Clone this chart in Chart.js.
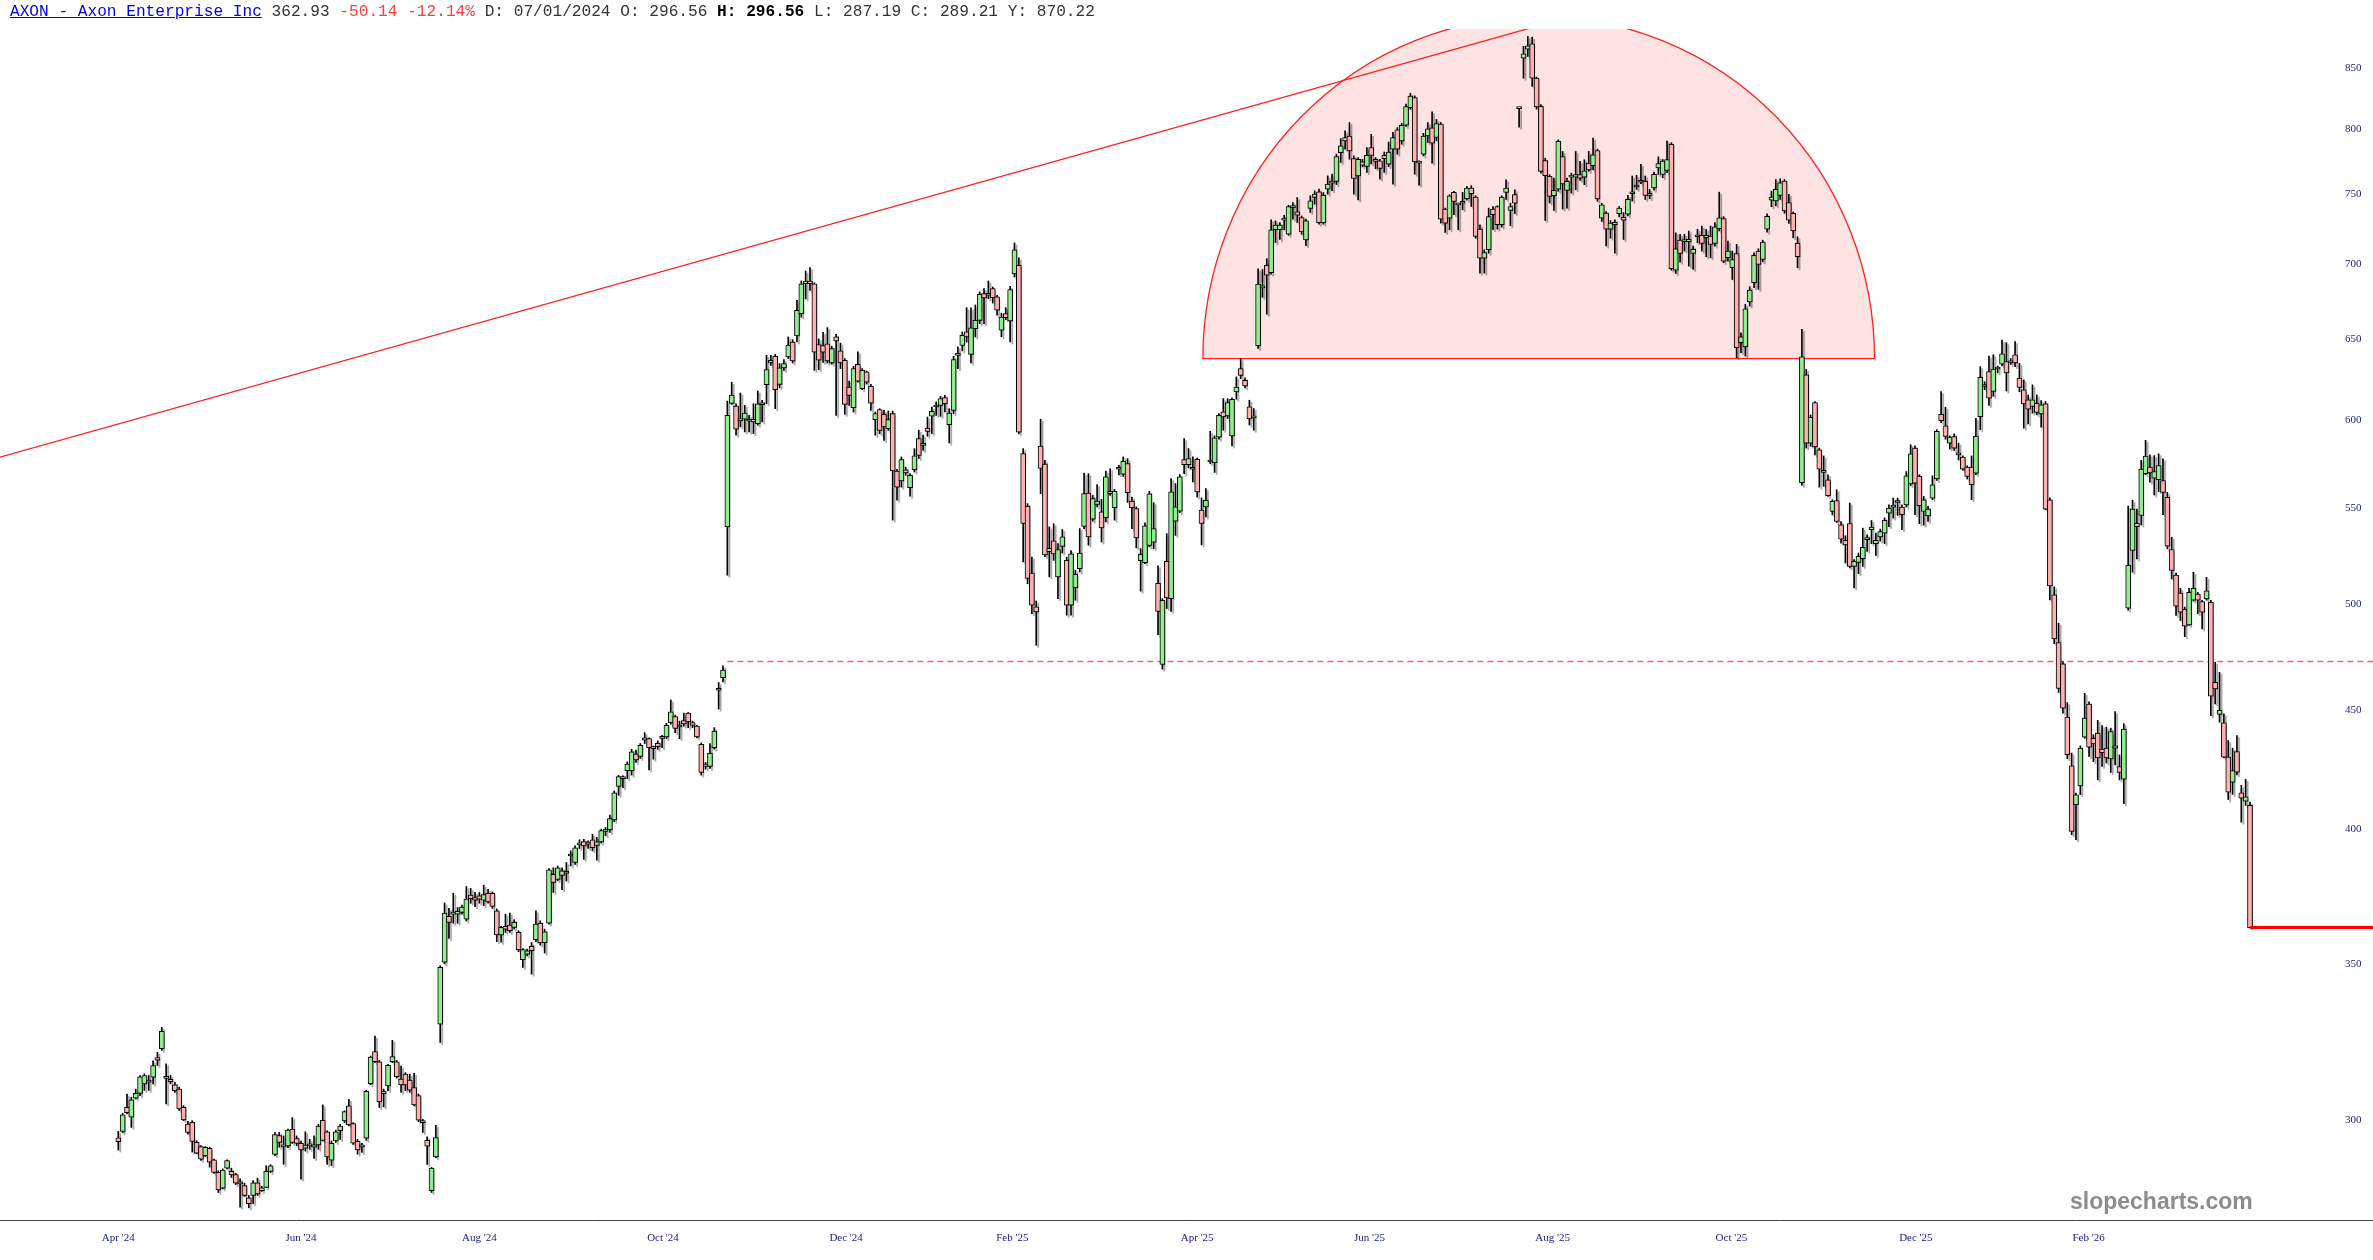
<!DOCTYPE html>
<html>
<head>
<meta charset="utf-8">
<title>AXON - Axon Enterprise Inc</title>
<script src="https://cdn.jsdelivr.net/npm/chart.js@4.4.1/dist/chart.umd.min.js"></script>
<style>
  html, body { margin: 0; padding: 0; background: #fff; overflow: hidden; }
  #wrap { position: relative; width: 2373px; height: 1260px; }
  #title { position: absolute; left: 10px; top: 3px; font: 16.15px 'Liberation Mono', monospace; line-height: 18px; color: #333; white-space: pre; }
  #title .name { color: #0000ee; text-decoration: underline; }
  #title .dn { color: #ff3b3b; }
  #title b { color: #000; }
  #mark { position: absolute; left: 2070px; top: 1188px; font: bold 23px 'Liberation Sans', Arial, sans-serif; color: #8c8c8c; }
</style>
</head>
<body>
<div id="wrap">
  <canvas id="chart" width="2373" height="1260"></canvas>
  <div id="title"><span class="name">AXON - Axon Enterprise Inc</span> 362.93 <span class="dn">-50.14 -12.14%</span> D: 07/01/2024 O: 296.56 <b>H: 296.56</b> L: 287.19 C: 289.21 Y: 870.22</div>
  <div id="mark">slopecharts.com</div>
</div>
<script>
// daily candles (one entry per trading day)
const opens = [
  294.7, 296.6, 303.8, 300.8, 306.5, 308.0, 310.9, 312.1, 313.0, 319.1,
  321.9, 312.6, 312.3, 310.6, 309.3, 303.8, 298.8, 299.3, 293.4, 292.2,
  289.6, 291.7, 288.4, 284.8, 280.4, 286.0, 285.1, 284.2, 281.6, 281.1,
  277.7, 278.4, 281.9, 279.7, 280.6, 285.1, 289.9, 295.4,
  292.1, 292.4, 297.3, 294.5, 293.1, 291.7, 292.9, 292.0, 292.7, 299.9,
  296.5, 288.3, 293.8, 296.8, 299.7, 304.2, 298.9, 293.7, 292.1, 294.6,
  311.0, 321.0, 317.8, 307.9, 310.3, 317.8, 317.8, 312.4, 313.9, 312.1,
  309.8, 307.3, 299.7, 294.0, 279.7, 289.2, 329.8,
  350.7, 367.0, 367.8, 367.8, 368.4, 366.0, 374.8, 373.9, 374.5, 372.9,
  375.5, 375.5, 369.0, 360.3, 363.4, 363.8, 363.0, 361.2, 351.6, 353.5,
  356.3, 358.6, 364.5, 357.6, 364.5, 382.6, 380.7, 383.9, 383.0, 389.6,
  387.1, 393.9, 395.2, 394.2, 395.9, 393.7, 395.1, 399.2, 399.9, 403.8,
  417.4, 420.6, 423.9, 423.9, 431.0, 430.0, 437.0, 437.6, 433.3, 435.6,
  437.7, 438.4, 444.6, 447.3, 442.7, 445.5, 448.8, 444.6, 443.1, 435.2,
  426.7, 425.7, 433.7, 459.1, 464.9,
  539.7, 609.9, 608.3, 599.4, 600.4, 599.2, 600.4, 597.8, 609.1, 621.3,
  634.9, 639.0, 621.5, 631.7, 638.6, 648.1, 652.0, 666.5, 686.6, 688.4,
  686.6, 646.5, 645.9, 647.0, 634.8, 651.4, 642.4, 636.5, 619.8, 607.3,
  634.0, 618.8, 629.2, 620.3, 600.2, 606.1, 603.3, 594.8, 603.7, 570.4,
  564.8, 571.1, 561.1, 571.1,
  589.0, 585.1, 595.2, 602.3, 607.7, 608.7, 613.4, 597.2, 605.7, 639.6,
  646.0, 654.6, 640.2, 656.7, 662.2, 679.9, 678.8, 683.3, 677.7, 655.7,
  666.6, 661.8, 693.4, 699.3, 580.3, 550.8, 515.6, 498.6, 584.6, 574.3,
  526.6, 532.3, 513.6, 529.4, 522.1, 499.4, 508.2, 517.8, 540.0, 558.1,
  543.8, 551.8, 547.8, 544.6, 559.0, 550.0, 571.4, 568.6, 574.6, 553.6,
  549.6, 522.0, 520.9, 529.9, 531.6, 510.3, 471.0, 521.6, 502.7, 542.8,
  548.1, 576.9, 574.0, 571.4, 577.1, 548.7, 550.5, 575.5, 575.1, 589.9,
  604.8, 602.4, 590.5, 616.8, 631.3, 624.0, 607.8, 601.2,
  645.7, 683.8, 699.3, 694.2, 724.3, 724.3, 731.3, 721.1, 740.4, 737.3,
  733.1, 717.1, 739.7, 747.9, 752.0, 729.5, 754.0, 759.5, 759.9, 781.7,
  793.5, 794.8, 777.2, 764.0, 772.1, 771.1, 785.7, 776.7, 775.4, 779.7,
  772.9, 784.5, 799.6, 790.9, 803.3, 817.4, 825.6, 773.7, 780.6, 794.8, 801.3, 793.6,
  804.2, 739.3, 732.7, 751.6, 742.4, 743.6, 746.9, 754.8, 748.1, 724.8,
  704.2, 710.1, 739.3, 741.2, 727.9, 751.6, 738.4, 749.9, 816.6, 858.5,
  866.2, 870.7, 841.7, 818.4, 775.7, 763.6, 749.1, 754.1, 778.8, 753.1,
  763.1, 763.1, 764.9, 763.1, 773.7, 771.7, 783.4, 732.7, 736.3, 724.8, 729.6, 736.0,
  733.3, 735.5, 750.6, 755.6, 759.2, 759.9, 749.4, 755.0, 770.1, 765.1,
  768.1, 788.2, 695.9, 716.9, 715.9, 715.9, 707.5, 719.3, 720.3, 718.6,
  719.8, 714.5, 725.1, 732.3, 704.5, 697.6, 707.5, 647.7, 645.1, 674.3,
  687.3, 709.2, 703.4, 724.8, 745.9, 745.2, 749.4, 760.0, 744.0, 736.2, 714.6, 563.8,
  627.4, 586.4, 610.4, 582.5, 569.6, 565.5, 548.0, 554.0, 540.8, 532.5,
  541.4, 519.0, 521.1, 523.0, 532.9, 538.2, 530.8, 534.3, 536.4, 547.1,
  550.4, 552.9, 550.4, 551.6, 563.2, 583.5, 567.4, 548.0, 545.6, 555.3,
  565.9, 603.4, 596.5, 586.4, 590.2, 579.6, 578.3, 572.6, 572.6, 569.2,
  602.0, 620.2, 629.4,
  617.2, 631.0, 634.1, 635.6, 634.9, 639.9, 625.3, 618.1, 612.0, 608.0,
  610.0, 603.6, 609.6, 554.4, 504.6, 481.3, 471.3, 447.0, 426.0, 409.9,
  417.6, 438.3, 452.9, 437.8, 440.0, 433.1, 433.5, 428.9, 434.5, 425.7,
  420.4, 498.0, 527.3, 539.8, 545.8, 568.9,
  572.6, 566.3, 565.5, 565.0, 555.7, 527.7, 514.6, 505.5, 497.4, 489.8,
  501.9, 505.0, 501.2, 502.6, 500.9, 462.7, 448.2, 444.5, 429.7, 419.1,
  432.0, 414.8, 411.3, 409.6
];
const highs = [
  296.6, 302.0, 307.8, 306.8, 309.3, 313.5, 314.0, 313.5, 318.1, 320.8,
  328.8, 317.1, 313.5, 311.4, 309.9, 304.3, 299.6, 299.8, 293.9, 292.5,
  292.2, 292.0, 288.6, 285.3, 285.8, 288.4, 286.0, 284.6, 283.0, 281.8,
  278.4, 282.5, 283.2, 280.9, 286.7, 287.0, 296.3, 296.3,
  295.3, 297.3, 300.7, 295.3, 293.8, 296.5, 294.3, 295.3, 298.7, 304.5,
  296.8, 293.8, 297.0, 298.7, 302.7, 306.2, 299.2, 294.3, 293.1, 309.0,
  319.6, 326.0, 318.2, 309.3, 317.0, 324.6, 318.2, 316.4, 314.4, 313.9,
  314.2, 307.8, 300.2, 295.0, 286.2, 298.4, 349.5,
  371.9, 369.9, 375.5, 370.2, 371.1, 378.0, 377.3, 375.8, 375.8, 378.5,
  377.0, 376.0, 369.7, 363.4, 367.8, 368.2, 365.8, 361.8, 355.5, 355.3,
  357.6, 369.0, 365.4, 362.4, 384.8, 385.1, 385.8, 385.1, 387.1, 391.6,
  393.5, 395.9, 396.1, 395.5, 398.1, 396.9, 400.1, 400.8, 405.7, 415.5,
  422.0, 421.8, 427.7, 433.0, 432.7, 435.5, 440.2, 438.0, 434.4, 436.6,
  439.0, 444.3, 454.7, 447.9, 445.3, 448.8, 449.1, 445.3, 443.4, 435.8,
  427.4, 435.5, 442.4, 462.6, 470.3,
  611.3, 622.8, 609.7, 616.2, 608.7, 602.7, 609.7, 617.4, 611.7, 639.6,
  639.6, 640.3, 634.4, 637.0, 651.4, 649.6, 675.4, 688.5, 695.3, 697.6,
  687.3, 650.1, 654.3, 657.4, 645.4, 653.1, 647.4, 637.6, 623.5, 632.7,
  641.8, 631.3, 629.8, 621.5, 604.7, 606.7, 605.7, 605.3, 605.3, 571.3,
  578.4, 572.6, 568.9, 583.2,
  593.9, 591.0, 601.7, 607.7, 610.8, 614.2, 614.8, 606.7, 639.0, 645.0,
  654.6, 670.5, 670.5, 672.3, 681.1, 683.3, 688.5, 684.4, 678.8, 666.9,
  670.5, 684.8, 714.9, 704.5, 583.2, 552.3, 523.8, 501.5, 600.4, 576.5,
  539.7, 541.4, 530.8, 538.3, 523.8, 527.2, 516.9, 538.8, 569.3, 568.9,
  556.8, 562.8, 554.6, 570.3, 571.7, 560.1, 573.6, 578.4, 577.4, 555.9,
  550.5, 528.2, 541.9, 559.0, 552.8, 519.3, 502.7, 536.1, 566.1, 563.4,
  568.4, 589.0, 583.2, 578.4, 577.8, 555.4, 560.5, 593.3, 590.6, 603.8,
  612.8, 612.8, 613.2, 626.1, 637.6, 625.5, 611.8, 606.8,
  696.9, 696.4, 703.9, 731.4, 730.7, 729.5, 734.8, 742.1, 744.1, 747.8,
  734.3, 732.0, 749.1, 752.8, 754.0, 751.5, 764.0, 765.3, 780.6, 792.7,
  798.8, 805.4, 779.3, 778.0, 776.7, 785.7, 796.1, 778.0, 776.7, 782.3,
  790.1, 797.6, 801.4, 804.9, 820.2, 829.1, 827.0, 775.4, 796.9, 805.4, 814.0, 807.9,
  805.5, 740.0, 749.9, 752.4, 743.6, 751.6, 756.1, 756.6, 749.1, 727.9,
  710.1, 740.0, 741.2, 741.7, 749.1, 761.1, 743.6, 753.6, 816.6, 868.6,
  877.1, 876.5, 842.5, 819.8, 777.5, 764.9, 762.3, 791.8, 782.7, 762.3,
  766.1, 782.7, 775.0, 776.3, 782.7, 793.1, 784.5, 743.6, 737.5, 731.0, 731.5, 741.2,
  736.7, 749.4, 763.9, 764.4, 772.7, 763.9, 753.8, 766.9, 778.6, 776.5,
  790.8, 789.5, 722.1, 721.0, 721.0, 723.4, 712.7, 724.6, 727.0, 724.6,
  727.0, 729.4, 751.8, 733.8, 716.2, 709.2, 713.9, 654.1, 672.8, 684.6,
  708.0, 710.8, 716.9, 735.9, 752.6, 761.2, 761.7, 761.2, 750.2, 737.2, 719.3, 656.3,
  630.8, 603.0, 611.0, 583.5, 579.0, 568.3, 554.4, 559.9, 542.6, 535.0,
  552.6, 522.5, 525.9, 539.0, 535.5, 543.1, 536.4, 538.5, 544.5, 551.6,
  555.3, 555.3, 551.6, 570.1, 585.4, 584.8, 568.3, 556.2, 550.8, 567.7,
  594.2, 617.1, 607.6, 590.6, 591.8, 586.4, 579.0, 573.4, 579.0, 601.0,
  632.5, 623.2, 639.2,
  640.0, 632.9, 649.4, 647.7, 637.6, 648.4, 634.6, 624.3, 615.0, 621.2,
  615.0, 611.6, 611.0, 555.4, 508.6, 490.6, 472.3, 453.5, 431.4, 414.6,
  434.5, 457.7, 453.9, 439.3, 445.6, 443.3, 442.6, 442.2, 449.5, 430.6,
  444.1, 550.9, 554.1, 549.3, 576.5, 588.0,
  579.6, 579.2, 580.2, 577.3, 558.5, 534.2, 515.6, 507.8, 498.5, 507.8,
  516.0, 505.8, 501.8, 513.4, 501.8, 472.0, 467.3, 448.5, 436.8, 433.5,
  438.9, 417.8, 420.3, 411.0
];
const lows = [
  291.2, 296.2, 301.8, 297.8, 306.3, 307.3, 308.9, 308.9, 310.9, 316.6,
  321.4, 304.8, 310.9, 308.3, 302.8, 299.8, 295.8, 290.6, 290.1, 288.2,
  289.3, 286.3, 284.5, 279.2, 280.2, 285.8, 283.4, 281.4, 275.2, 278.1,
  275.0, 276.1, 278.4, 279.5, 280.5, 284.8, 289.6, 292.0,
  287.1, 291.9, 293.1, 292.4, 282.9, 290.9, 291.4, 288.8, 291.4, 293.8,
  287.1, 286.7, 293.4, 294.3, 299.2, 298.2, 292.8, 290.0, 290.5, 294.0,
  310.6, 317.5, 303.7, 303.9, 308.8, 317.5, 312.7, 308.3, 308.8, 308.3,
  304.2, 299.5, 296.3, 287.1, 279.2, 289.0, 323.9,
  350.1, 359.1, 364.5, 364.5, 367.8, 365.3, 371.8, 370.5, 371.8, 370.9,
  371.8, 369.9, 357.9, 357.7, 361.2, 361.2, 362.4, 354.4, 348.9, 352.9,
  346.6, 357.9, 356.7, 353.9, 364.2, 375.8, 380.1, 376.8, 380.1, 385.8,
  386.4, 392.5, 388.3, 392.5, 391.6, 388.0, 394.6, 397.5, 398.8, 403.1,
  413.7, 416.9, 420.6, 422.1, 427.4, 429.1, 435.5, 424.3, 428.8, 433.0,
  433.7, 437.6, 443.9, 440.2, 437.6, 443.1, 442.4, 442.4, 437.9, 422.1,
  424.6, 424.9, 433.0, 450.6, 462.9,
  514.5, 609.3, 591.0, 595.9, 592.9, 592.9, 591.9, 596.8, 598.8, 609.7,
  633.3, 606.7, 619.4, 630.2, 637.6, 634.8, 648.1, 664.3, 676.4, 682.1,
  630.2, 630.6, 635.1, 634.8, 634.0, 602.7, 631.3, 603.3, 608.7, 604.7,
  622.8, 618.2, 621.7, 605.7, 591.0, 591.9, 588.0, 593.8, 543.3, 554.1,
  561.4, 568.0, 556.3, 569.8,
  577.5, 582.2, 590.4, 592.0, 602.7, 602.1, 604.7, 586.5, 603.7, 631.3,
  642.5, 648.1, 634.8, 651.4, 660.0, 660.0, 676.5, 673.6, 665.5, 651.5,
  662.6, 648.1, 691.2, 591.8, 521.3, 510.2, 495.3, 480.0, 557.8, 524.0,
  513.6, 522.1, 502.7, 525.9, 494.5, 494.5, 501.9, 516.1, 538.8, 530.0,
  542.7, 550.5, 531.7, 542.4, 556.8, 543.3, 568.2, 567.3, 552.9, 538.8,
  528.6, 506.4, 520.4, 529.1, 528.2, 485.1, 468.8, 497.8, 496.4, 535.2,
  547.4, 568.9, 572.1, 564.3, 555.9, 530.2, 545.1, 574.6, 569.6, 588.6,
  593.9, 600.8, 584.7, 612.4, 625.1, 619.3, 597.0, 593.9,
  644.0, 677.4, 666.2, 693.1, 715.2, 717.5, 724.3, 720.4, 731.9, 729.5,
  721.1, 712.9, 736.8, 742.9, 728.3, 728.3, 750.3, 752.8, 757.5, 774.2,
  784.5, 776.7, 750.3, 746.1, 770.9, 766.6, 773.1, 769.4, 761.5, 766.6,
  771.1, 757.7, 780.6, 788.3, 802.3, 816.1, 765.3, 757.0, 779.3, 789.6, 773.7, 791.0,
  729.1, 722.4, 724.3, 735.2, 724.3, 738.8, 745.9, 741.2, 718.3, 693.9,
  693.9, 707.7, 724.3, 724.8, 726.2, 746.4, 727.2, 736.0, 801.7, 841.6,
  859.9, 834.8, 816.2, 766.1, 731.0, 743.8, 738.4, 752.4, 739.3, 740.0,
  751.1, 753.6, 760.6, 757.4, 767.4, 768.6, 745.0, 730.3, 712.8, 718.3, 707.7, 733.6,
  717.4, 734.3, 745.2, 753.8, 758.2, 746.4, 746.9, 753.3, 765.1, 762.6,
  766.4, 695.9, 693.6, 701.5, 709.2, 698.7, 696.4, 715.0, 709.2, 705.2,
  704.5, 712.6, 723.4, 701.1, 702.2, 689.5, 638.1, 641.3, 639.2, 671.6,
  683.9, 682.8, 701.7, 722.6, 741.0, 741.6, 746.4, 736.2, 728.9, 718.6, 697.5, 562.3,
  583.5, 584.5, 579.6, 561.4, 561.8, 556.2, 546.2, 542.0, 531.0, 520.7,
  518.2, 508.0, 515.3, 519.0, 526.7, 530.8, 524.6, 532.2, 530.8, 539.8,
  544.4, 545.9, 538.2, 550.4, 562.2, 546.2, 541.4, 540.6, 542.6, 554.4,
  565.1, 598.4, 588.6, 582.9, 582.1, 576.7, 570.7, 565.9, 554.4, 568.3,
  594.2, 618.2, 608.6,
  614.2, 628.6, 632.9, 617.4, 633.9, 632.5, 617.0, 595.1, 597.6, 604.0,
  603.0, 595.7, 548.9, 502.1, 480.8, 458.1, 448.8, 429.0, 397.9, 396.0,
  414.0, 437.8, 430.0, 427.8, 420.1, 425.7, 427.2, 423.2, 426.4, 420.1,
  410.3, 497.0, 516.0, 522.8, 540.7, 568.3,
  564.1, 557.0, 558.9, 546.2, 528.1, 512.6, 494.4, 491.9, 484.1, 489.5,
  501.4, 495.2, 487.8, 501.9, 447.7, 452.9, 444.8, 429.3, 412.0, 414.1,
  422.2, 402.9, 409.6, 362.93
];
const closes = [
  293.6, 301.5, 302.2, 306.0, 308.0, 313.1, 313.5, 311.4, 316.6, 318.3,
  327.5, 312.6, 311.6, 308.8, 303.3, 300.0, 296.3, 293.7, 290.3, 288.6,
  292.0, 287.7, 284.8, 279.9, 285.5, 288.2, 284.1, 281.8, 281.6, 278.4,
  276.1, 281.9, 278.8, 280.5, 285.1, 286.7, 295.7, 293.4,
  292.1, 297.0, 293.4, 293.1, 291.2, 292.6, 292.4, 292.7, 298.2, 294.0,
  289.2, 293.1, 296.5, 298.2, 302.5, 298.5, 293.2, 291.2, 292.7, 308.6,
  319.3, 317.8, 305.5, 308.6, 316.7, 319.4, 313.1, 310.6, 310.6, 309.0,
  304.5, 299.9, 299.2, 292.3, 286.0, 294.8, 348.9,
  368.2, 364.8, 367.8, 368.8, 370.4, 373.3, 373.5, 372.9, 373.3, 375.0,
  372.3, 370.6, 360.3, 363.0, 362.4, 361.8, 364.8, 355.1, 355.1, 354.7,
  354.7, 364.2, 357.6, 361.4, 384.3, 379.5, 385.1, 382.2, 383.0, 389.6,
  392.8, 393.9, 393.5, 394.8, 392.8, 395.1, 399.5, 400.1, 404.3, 414.8,
  421.5, 420.6, 426.7, 431.9, 428.5, 434.7, 438.0, 433.7, 433.3, 434.1,
  438.4, 443.4, 449.4, 442.1, 442.7, 444.0, 444.9, 443.4, 438.4, 423.2,
  425.7, 431.3, 440.9, 459.1, 468.4,
  602.7, 615.0, 594.5, 600.8, 604.1, 599.2, 598.8, 609.7, 609.1, 630.6,
  636.5, 618.2, 631.7, 634.4, 646.0, 636.1, 668.7, 686.6, 688.4, 686.6,
  641.7, 636.5, 641.7, 636.1, 643.9, 648.8, 634.8, 609.3, 614.7, 631.3,
  623.4, 630.2, 622.8, 610.1, 603.7, 593.8, 595.8, 600.2, 570.4, 561.4,
  576.9, 569.3, 568.0, 579.0,
  579.3, 585.1, 593.2, 605.1, 607.7, 612.8, 609.7, 604.1, 636.9, 639.6,
  652.4, 651.4, 657.2, 662.2, 679.5, 677.0, 678.8, 677.2, 668.8, 664.3,
  664.0, 682.6, 710.1, 592.8, 541.5, 512.8, 499.4, 496.1, 571.8, 524.9,
  528.3, 525.4, 527.7, 534.4, 499.4, 525.5, 514.9, 525.9, 557.8, 534.3,
  555.0, 553.7, 539.2, 567.1, 557.7, 559.0, 571.4, 575.9, 558.3, 550.0,
  533.8, 525.2, 540.2, 557.7, 538.8, 496.4, 501.9, 503.0, 558.7, 550.5,
  567.1, 574.0, 577.5, 571.4, 558.7, 541.5, 554.1, 575.5, 589.4, 602.8,
  601.8, 610.4, 612.4, 619.9, 627.1, 620.5, 600.8, 601.2,
  686.3, 683.8, 692.4, 724.3, 727.6, 727.6, 732.3, 741.1, 741.6, 734.8,
  722.8, 730.7, 745.4, 750.3, 729.5, 749.5, 757.8, 758.5, 778.8, 787.0,
  790.9, 783.2, 762.0, 776.7, 774.7, 779.7, 779.7, 775.1, 769.6, 777.2,
  782.3, 793.6, 784.5, 803.3, 818.3, 826.9, 774.7, 773.7, 794.8, 800.5, 789.1, 804.6,
  732.0, 729.1, 749.1, 744.9, 742.4, 744.9, 754.8, 750.6, 719.5, 704.2,
  708.2, 733.9, 735.2, 727.9, 748.1, 754.8, 741.2, 743.6, 816.6, 862.2,
  869.1, 841.7, 817.9, 767.3, 764.1, 748.6, 753.1, 790.5, 757.9, 759.9,
  763.1, 764.9, 762.3, 767.9, 768.6, 780.1, 746.7, 742.4, 724.8, 729.1, 727.9, 740.0,
  731.3, 746.4, 750.6, 755.6, 759.9, 749.4, 750.9, 765.1, 773.4, 775.2,
  776.5, 696.9, 710.8, 707.5, 716.9, 717.4, 710.4, 719.3, 714.5, 720.3,
  713.8, 726.5, 733.0, 702.2, 709.2, 703.3, 644.5, 651.5, 669.8, 682.3,
  706.2, 699.9, 715.5, 734.0, 748.1, 753.8, 758.8, 737.9, 731.3, 723.4, 705.2, 638.7,
  586.4, 601.6, 584.1, 571.5, 569.6, 556.6, 553.5, 542.6, 533.2, 530.2,
  519.0, 521.6, 524.2, 528.9, 532.9, 539.6, 532.5, 537.2, 543.2, 549.8,
  550.4, 552.9, 546.2, 567.7, 580.2, 563.6, 551.1, 554.4, 549.3, 562.7,
  593.2, 599.6, 590.2, 589.9, 583.5, 579.6, 571.5, 567.3, 562.7, 590.3,
  625.9, 620.2, 613.0,
  631.0, 631.0, 640.5, 628.6, 636.2, 634.9, 619.6, 609.6, 606.4, 612.0,
  604.4, 609.0, 549.3, 509.1, 483.0, 459.9, 451.0, 430.7, 399.2, 413.9,
  433.5, 446.6, 433.9, 435.3, 429.3, 431.6, 429.3, 440.7, 433.5, 423.2,
  441.8, 519.5, 549.3, 541.6, 571.5, 578.9,
  569.3, 570.1, 573.5, 558.5, 529.5, 516.9, 499.0, 496.0, 489.2, 505.8,
  507.8, 501.9, 496.0, 506.6, 456.4, 459.7, 450.0, 429.7, 415.0, 424.0,
  423.3, 412.6, 413.07, 362.93
];

// axis labels
const xTickIdx = [0, 42, 83, 125.2, 167.3, 205.5, 248, 287.6, 329.7, 370.8, 413.2, 452.9];
const xTickLabels = ["Apr '24", "Jun '24", "Aug '24", "Oct '24", "Dec '24", "Feb '25",
                     "Apr '25", "Jun '25", "Aug '25", "Oct '25", "Dec '25", "Feb '26"];
const yTicks = [300, 350, 400, 450, 500, 550, 600, 650, 700, 750, 800, 850];

// drawn studies (index, price)
const trendIdx = [-27.2, 323.8];
const trendPrice = [578.3, 883.6];
const domeIdx = [249.3, 403.7];
const domeBase = 637.5;
const domeTop = 894.5;
const supportPrice = 472.4;
const supportFrom = 140;
const lastPrice = 362.93;

const GREEN = '#90ee90', RED = '#ffb0b0';

const wickData = highs.map((h, i) => ({x: i, y: [lows[i], h]}));
const bodyData = opens.map((o, i) => ({x: i, y: [o, closes[i]]}));
const bodyColors = opens.map((o, i) => closes[i] >= o ? GREEN : RED);

const studies = {
    id: 'studies',
    beforeDatasetsDraw(chart) {
        const {ctx, chartArea: a, scales: {x, y}} = chart;
        ctx.save();
        ctx.beginPath();
        ctx.rect(a.left, a.top, chart.width - a.left, a.bottom - a.top);
        ctx.clip();

        // rounded top (semicircle)
        const xl = x.getPixelForValue(domeIdx[0]), xr = x.getPixelForValue(domeIdx[1]);
        const yb = y.getPixelForValue(domeBase), yt = y.getPixelForValue(domeTop);
        ctx.beginPath();
        ctx.ellipse((xl + xr) / 2, yb, (xr - xl) / 2, yb - yt, 0, Math.PI, 2 * Math.PI);
        ctx.closePath();
        ctx.fillStyle = 'rgba(255, 0, 0, 0.11)';
        ctx.fill();
        ctx.strokeStyle = '#ff2020';
        ctx.lineWidth = 1.3;
        ctx.stroke();

        // trend line, extended to the right
        const x1 = x.getPixelForValue(trendIdx[0]), y1 = y.getPixelForValue(trendPrice[0]);
        const x2 = x.getPixelForValue(trendIdx[1]), y2 = y.getPixelForValue(trendPrice[1]);
        ctx.beginPath();
        ctx.moveTo(x1, y1);
        ctx.lineTo(x1 + (x2 - x1) * 2, y1 + (y2 - y1) * 2);
        ctx.strokeStyle = '#ff2020';
        ctx.lineWidth = 1.3;
        ctx.stroke();

        // dashed support
        const ys = Math.round(y.getPixelForValue(supportPrice)) + 0.5;
        ctx.beginPath();
        ctx.setLineDash([6, 4]);
        ctx.moveTo(x.getPixelForValue(supportFrom), ys);
        ctx.lineTo(chart.width, ys);
        ctx.strokeStyle = 'rgba(240, 60, 60, 0.8)';
        ctx.lineWidth = 1.3;
        ctx.stroke();
        ctx.restore();

        // candle drop shadow
        ctx.save();
        ctx.shadowColor = 'rgba(0, 0, 0, 0.4)';
        ctx.shadowOffsetX = 2;
        ctx.shadowOffsetY = 2;
        ctx.shadowBlur = 1;
    },
    afterDatasetsDraw(chart) {
        const {ctx, chartArea: a, scales: {x, y}} = chart;
        ctx.restore();

        // last price line
        const yl = y.getPixelForValue(lastPrice);
        ctx.save();
        ctx.beginPath();
        ctx.moveTo(x.getPixelForValue(opens.length - 1), yl);
        ctx.lineTo(chart.width, yl);
        ctx.strokeStyle = '#ff0000';
        ctx.lineWidth = 3;
        ctx.stroke();

        // bottom rule
        ctx.beginPath();
        ctx.moveTo(0, a.bottom + 0.5);
        ctx.lineTo(chart.width, a.bottom + 0.5);
        ctx.strokeStyle = '#444';
        ctx.lineWidth = 1;
        ctx.stroke();
        ctx.restore();
    }
};

const tickFont = {family: "'Liberation Serif', serif", size: 11};
const tickColor = '#20208c';

new Chart(document.getElementById('chart'), {
    type: 'bar',
    data: {
        datasets: [{
            label: 'body',
            data: bodyData,
            backgroundColor: bodyColors,
            borderColor: '#000',
            borderWidth: 1,
            borderSkipped: false,
            barThickness: 5,
            minBarLength: 2,
            grouped: false,
            order: 0
        }, {
            label: 'wick',
            data: wickData,
            backgroundColor: '#000',
            borderWidth: 0,
            barThickness: 1,
            grouped: false,
            order: 1
        }]
    },
    options: {
        responsive: false,
        animation: false,
        events: [],
        layout: { padding: { top: 29, left: 0, right: 0, bottom: 0 } },
        plugins: { legend: { display: false }, tooltip: { enabled: false } },
        scales: {
            x: {
                type: 'linear',
                min: -27.19,
                max: 510.69,
                offset: false,
                bounds: 'data',
                grid: { display: false, drawTicks: false },
                border: { display: false },
                afterFit: s => { s.height = 40; },
                afterBuildTicks: s => { s.ticks = xTickIdx.map(v => ({value: v})); },
                ticks: {
                    autoSkip: false,
                    maxRotation: 0,
                    padding: 12,
                    font: tickFont,
                    color: tickColor,
                    callback: (v, i) => xTickLabels[i]
                }
            },
            y: {
                type: 'logarithmic',
                position: 'right',
                min: 271.7,
                max: 883.6,
                bounds: 'data',
                grid: { display: false, drawTicks: false },
                border: { display: false },
                afterFit: s => { s.width = 33; },
                afterBuildTicks: s => { s.ticks = yTicks.map(v => ({value: v})); },
                ticks: {
                    autoSkip: false,
                    padding: 5,
                    font: tickFont,
                    color: tickColor,
                    callback: v => String(v)
                }
            }
        }
    },
    plugins: [studies]
});
</script>
</body>
</html>
